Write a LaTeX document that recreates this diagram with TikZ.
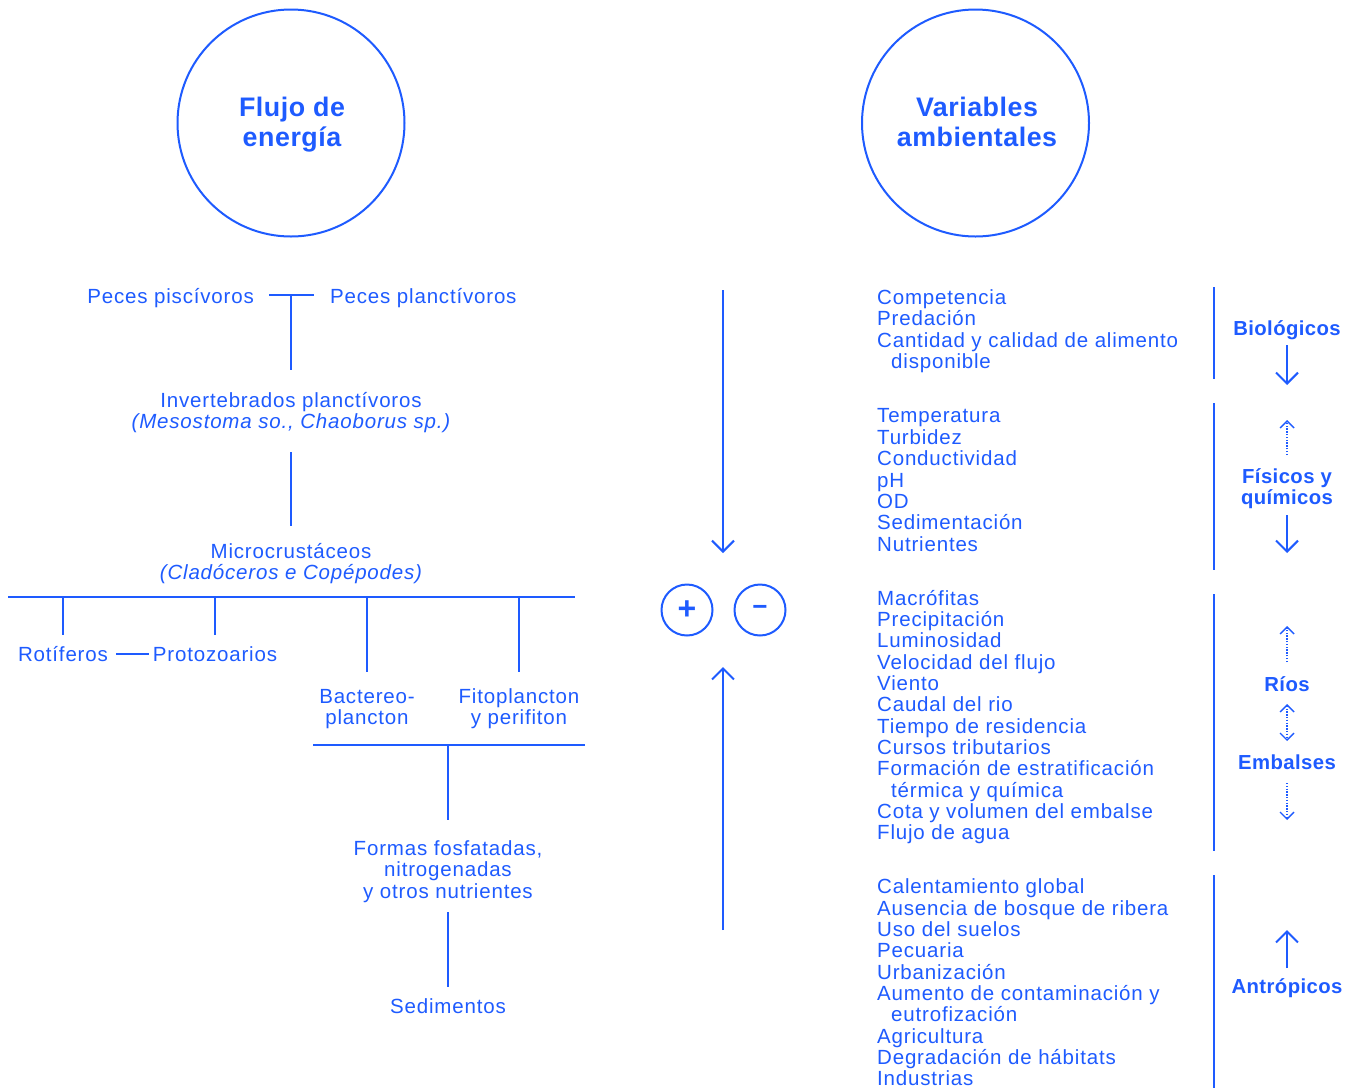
\documentclass[tikz,border=0pt]{standalone}
\usepackage{fontspec}
\setmainfont[LetterSpace=4]{Liberation Sans}
\newfontfamily\boldfam[LetterSpace=2,BoldFont={Liberation Sans Bold}]{Liberation Sans}
\usetikzlibrary{arrows.meta}
\definecolor{bl}{RGB}{30,91,255}
\newcommand{\regf}{\fontsize{20.5}{21.4}\selectfont}
\newcommand{\headf}{\boldfam\fontsize{26.8}{30}\selectfont\bfseries}
\newcommand{\labf}{\boldfam\fontsize{20.3}{21}\selectfont\bfseries}
\begin{document}
\begin{tikzpicture}[x=1pt,y=-1pt,
  txt/.style={inner sep=0pt,font=\regf,text=bl},
  head/.style={inner sep=0pt,font=\headf,text=bl,anchor=base},
  lab/.style={inner sep=0pt,font=\labf,text=bl,anchor=base},
  ln/.style={draw=bl,line width=1.2pt},
  bigc/.style={draw=bl,line width=2pt,circle,minimum size=227pt,inner sep=0pt},
  smc/.style={draw=bl,line width=2pt,circle,minimum size=51pt,inner sep=0pt},
  bigarr/.style={draw=bl,line width=2pt,-{Straight Barb[length=11pt,width=22pt,line width=2pt]}},
  dotarr/.style={draw=bl,line width=1.2pt,dash pattern=on 1.4pt off 1.4pt,-{Straight Barb[length=7pt,width=14pt,line width=1.4pt]}},
  dotarr2/.style={draw=bl,line width=1.2pt,dash pattern=on 1.4pt off 1.4pt,{Straight Barb[length=7pt,width=14pt,line width=1.4pt]}-{Straight Barb[length=7pt,width=14pt,line width=1.4pt]}}
]
\useasboundingbox[fill=white] (0,0) rectangle (1360,1088);

% circles
\node[bigc] (c1) at (291,123) {};
\node[bigc] (c2) at (975.5,123) {};
\node[head] (h1a) at (292,116) {Flujo de};
\node[head] (h1b) at (292,146) {energía};
\node[head] (h2a) at (977,116) {Variables};
\node[head] (h2b) at (977,146) {ambientales};

% left tree
\node[txt,anchor=base east] (pp1) at (254,303) {Peces piscívoros};
\node[txt,anchor=base west] (pp2) at (330,303) {Peces planctívoros};
\coordinate (j1a) at (269,295);
\coordinate (j1b) at (314,295);
\coordinate (j1) at (291,295);
\coordinate (j1d) at (291,370);
\draw[ln] (j1a) -- (j1b);
\draw[ln] (j1) -- (j1d);

\node[txt,anchor=base] (inv1) at (291,407) {Invertebrados planctívoros};
\node[txt,anchor=base] (inv2) at (291,428) {\itshape (Mesostoma so., Chaoborus sp.)};
\coordinate (j2a) at (291,452);
\coordinate (j2b) at (291,526);
\draw[ln] (j2a) -- (j2b);

\node[txt,anchor=base] (mic1) at (291,558) {Microcrustáceos};
\node[txt,anchor=base] (mic2) at (291,579) {\itshape (Cladóceros e Copépodes)};
\coordinate (h3a) at (8,597);
\coordinate (h3b) at (575,597);
\draw[ln] (h3a) -- (h3b);
\coordinate (r0) at (63,597); \coordinate (r1) at (63,635);
\coordinate (p0) at (215,597); \coordinate (p1) at (215,635);
\coordinate (b0) at (367,597); \coordinate (b1) at (367,672);
\coordinate (f0) at (519,597); \coordinate (f1) at (519,672);
\draw[ln] (r0) -- (r1);
\draw[ln] (p0) -- (p1);
\draw[ln] (b0) -- (b1);
\draw[ln] (f0) -- (f1);

\node[txt,anchor=base] (rot) at (63,661) {Rotíferos};
\node[txt,anchor=base] (pro) at (215,661) {Protozoarios};
\coordinate (rp1) at (116,654); \coordinate (rp2) at (149,654);
\draw[ln] (rp1) -- (rp2);

\node[txt,anchor=base] (bac1) at (367,703) {Bactereo-};
\node[txt,anchor=base] (bac2) at (367,724) {plancton};
\node[txt,anchor=base] (fit1) at (519,703) {Fitoplancton};
\node[txt,anchor=base] (fit2) at (519,724) {y perifiton};
\coordinate (h4a) at (313,745);
\coordinate (h4b) at (585,745);
\draw[ln] (h4a) -- (h4b);
\coordinate (v4a) at (448,745); \coordinate (v4b) at (448,820);
\draw[ln] (v4a) -- (v4b);

\node[txt,anchor=base] (for1) at (448,855) {Formas fosfatadas,};
\node[txt,anchor=base] (for2) at (448,876) {nitrogenadas};
\node[txt,anchor=base] (for3) at (448,898) {y otros nutrientes};
\coordinate (v5a) at (448,912); \coordinate (v5b) at (448,987);
\draw[ln] (v5a) -- (v5b);
\node[txt,anchor=base] (sed) at (448,1013) {Sedimentos};

% middle
\coordinate (ma0) at (723,290); \coordinate (ma1) at (723,553);
\draw[bigarr] (ma0) -- (ma1);
\coordinate (mb0) at (723,930); \coordinate (mb1) at (723,667);
\draw[bigarr] (mb0) -- (mb1);
\node[smc] (plus) at (687,610) {};
\node[smc] (minus) at (760,610) {};
\node[inner sep=0pt,text=bl,font=\fontsize{32}{32}\selectfont\bfseries] (plust) at (plus) {+};
\node[inner sep=0pt,text=bl,font=\fontsize{26}{26}\selectfont\bfseries] (minust) at (minus) {−};

% right column text
\foreach \y/\t [count=\i] in {
 304/Competencia, 325/Predación, 347/Cantidad y calidad de alimento,
 422/Temperatura, 444/Turbidez, 465/Conductividad, 487/pH, 508/OD, 529/Sedimentación, 551/Nutrientes,
 605/Macrófitas, 626/Precipitación, 647/Luminosidad, 669/Velocidad del flujo, 690/Viento, 711/Caudal del rio,
 733/Tiempo de residencia, 754/Cursos tributarios, 775/Formación de estratificación,
 818/Cota y volumen del embalse, 839/Flujo de agua,
 893/Calentamiento global, 915/Ausencia de bosque de ribera, 936/Uso del suelos, 957/Pecuaria,
 979/Urbanización, 1000/Aumento de contaminación y, 1043/Agricultura, 1064/Degradación de hábitats, 1085/Industrias}
 {\node[txt,anchor=base west] (rt\i) at (877,\y) {\t};}
\foreach \y/\t [count=\i] in {368/disponible, 797/térmica y química, 1021/eutrofización}
 {\node[txt,anchor=base west] (ri\i) at (891,\y) {\t};}

% right separators
\coordinate (s1a) at (1214,287); \coordinate (s1b) at (1214,379);
\coordinate (s2a) at (1214,403); \coordinate (s2b) at (1214,570);
\coordinate (s3a) at (1214,594); \coordinate (s3b) at (1214,851);
\coordinate (s4a) at (1214,875); \coordinate (s4b) at (1214,1088);
\draw[ln] (s1a) -- (s1b);
\draw[ln] (s2a) -- (s2b);
\draw[ln] (s3a) -- (s3b);
\draw[ln] (s4a) -- (s4b);

% right labels and arrows
\node[lab] (bio) at (1287,335) {Biológicos};
\coordinate (a1a) at (1287,345); \coordinate (a1b) at (1287,385);
\draw[bigarr] (a1a) -- (a1b);

\coordinate (a2a) at (1287,455); \coordinate (a2b) at (1287,420);
\draw[dotarr] (a2a) -- (a2b);
\node[lab] (fis1) at (1287,483) {Físicos y};
\node[lab] (fis2) at (1287,504) {químicos};
\coordinate (a3a) at (1287,515); \coordinate (a3b) at (1287,553);
\draw[bigarr] (a3a) -- (a3b);

\coordinate (a4a) at (1287,662); \coordinate (a4b) at (1287,626);
\draw[dotarr] (a4a) -- (a4b);
\node[lab] (rios) at (1287,691) {Ríos};
\coordinate (a5a) at (1287,704); \coordinate (a5b) at (1287,741);
\draw[dotarr2] (a5a) -- (a5b);
\node[lab] (emb) at (1287,769) {Embalses};
\coordinate (a6a) at (1287,783); \coordinate (a6b) at (1287,820);
\draw[dotarr] (a6a) -- (a6b);

\coordinate (a7a) at (1287,968); \coordinate (a7b) at (1287,930);
\draw[bigarr] (a7a) -- (a7b);
\node[lab] (ant) at (1287,993) {Antrópicos};
\end{tikzpicture}
\end{document}
